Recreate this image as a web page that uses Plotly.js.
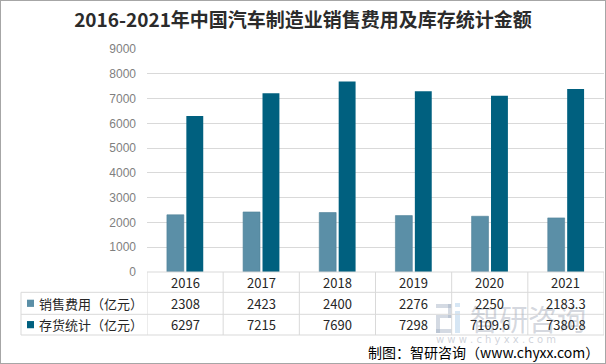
<!DOCTYPE html>
<html><head><meta charset="utf-8">
<script src="https://cdn.plot.ly/plotly-3.0.1.min.js"></script>
<style>
html,body{margin:0;padding:0;background:#fff;overflow:hidden;}
#wrap{position:relative;width:606px;height:364px;}
#chart{width:606px;height:364px;}
#border{position:absolute;left:0;top:0;width:604px;height:362px;border:1px solid #a6a6a6;pointer-events:none;}
</style></head>
<body><div id="wrap"><div id="chart"></div><div id="border"></div></div>
<script>
const years = ['2016','2017','2018','2019','2020','2021'];
const salesName = '销售费用（亿元）';
const stockName = '存货统计（亿元）';
const sales = [2308, 2423, 2400, 2276, 2250, 2183.3];
const stock = [6297, 7215, 7690, 7298, 7109.6, 7380.8];
const salesLabels = ['2308','2423','2400','2276','2250','2183.3'];
const stockLabels = ['6297','7215','7690','7298','7109.6','7380.8'];
const yTicks = [0,1000,2000,3000,4000,5000,6000,7000,8000,9000];

const cLight = '#5b8fa7';
const cDark = '#00607f';
const lineC = '#d9d9d9';
const txt = '#262626';
const cjk = '"Noto Sans CJK SC", "Noto Sans", sans-serif';

// plot-area geometry in pixels, used to place table / watermark in paper units
const PL = 147, PW = 457, PB = 272, PH = 223;
function px(x){ return (x - PL) / PW; }
function py(y){ return (PB - y) / PH; }

const rowY = [py(272), py(292.3), py(314.3), py(335)];
const leftX = px(21);

const traces = [
  {type:'bar', name:salesName, x:years, y:sales, marker:{color:cLight, line:{color:'#4f8199', width:0.6}}, hoverinfo:'x+y'},
  {type:'bar', name:stockName, x:years, y:stock, marker:{color:cDark}, hoverinfo:'x+y'}
];

const shapes = [];
// watermark logo (drawn first, under table text)
const wmA = 'rgba(160,172,192,0.45)', wmB = 'rgba(180,210,235,0.55)';
[[436,304,452,308,wmA],[448,304,452,318,wmA],[440,315,452,318,wmA],[436,315,440,333,wmA],[436,329,452,333,wmA],
 [455,311,460,333,wmB],[455,303,460,307,wmB]].forEach(function(r){
  shapes.push({type:'rect', xref:'paper', yref:'paper', x0:px(r[0]), x1:px(r[2]), y0:py(r[3]), y1:py(r[1]), fillcolor:r[4], line:{width:0}, layer:'below'});
});
// horizontal lines
shapes.push({type:'line', xref:'paper', yref:'paper', x0:0, x1:1, y0:rowY[0], y1:rowY[0], line:{color:lineC, width:1}});
for (let i=1;i<rowY.length;i++){
  shapes.push({type:'line', xref:'paper', yref:'paper', x0:leftX, x1:1, y0:rowY[i], y1:rowY[i], line:{color:lineC, width:1}});
}
// vertical lines at category boundaries
for (let i=0;i<=years.length;i++){
  shapes.push({type:'line', xref:'x', yref:'paper', x0:i-0.5, x1:i-0.5, y0:rowY[0], y1:rowY[3], line:{color:lineC, width:1}});
}
shapes.push({type:'line', xref:'paper', yref:'paper', x0:leftX, x1:leftX, y0:rowY[1], y1:rowY[3], line:{color:lineC, width:1}});
// legend keys
[[rowY[1],rowY[2],cLight],[rowY[2],rowY[3],cDark]].forEach(function(k){
  const mid=(k[0]+k[1])/2;
  shapes.push({type:'rect', xref:'paper', yref:'paper', x0:px(27), x1:px(34), y0:mid-3.6/PH, y1:mid+3.6/PH, fillcolor:k[2], line:{width:0}});
});

const ann = [];
// watermark text
ann.push({xref:'paper', yref:'paper', x:px(468), y:py(318), text:'智研咨询', showarrow:false, xanchor:'left', yanchor:'middle', font:{family:cjk, size:29, color:'rgba(160,168,182,0.45)'}});
ann.push({xref:'paper', yref:'paper', x:px(434), y:py(339), text:'w w w . c h y x x . c o m', showarrow:false, xanchor:'left', yanchor:'middle', font:{family:'"DejaVu Sans", sans-serif', size:10, color:'rgba(160,168,182,0.5)'}});
years.forEach(function(y,i){
  ann.push({xref:'x', yref:'paper', x:i, y:(rowY[0]+rowY[1])/2, text:y, showarrow:false, font:{family:cjk, size:13, color:txt}, yanchor:'middle'});
  ann.push({xref:'x', yref:'paper', x:i, y:(rowY[1]+rowY[2])/2, text:salesLabels[i], showarrow:false, font:{family:cjk, size:13, color:txt}, yanchor:'middle'});
  ann.push({xref:'x', yref:'paper', x:i, y:(rowY[2]+rowY[3])/2, text:stockLabels[i], showarrow:false, font:{family:cjk, size:13, color:txt}, yanchor:'middle'});
});
ann.push({xref:'paper', yref:'paper', x:px(37), y:(rowY[1]+rowY[2])/2, text:salesName, showarrow:false, xanchor:'left', yanchor:'middle', font:{family:cjk, size:13, color:txt}});
ann.push({xref:'paper', yref:'paper', x:px(37), y:(rowY[2]+rowY[3])/2, text:stockName, showarrow:false, xanchor:'left', yanchor:'middle', font:{family:cjk, size:13, color:txt}});
// credit
ann.push({xref:'paper', yref:'paper', x:px(601), y:py(352), text:'制图：智研咨询（www.chyxx.com）', showarrow:false, xanchor:'right', yanchor:'middle', font:{family:cjk, size:14, color:'#000'}});

const layout = {
  width:606, height:364,
  margin:{l:PL, r:606-PL-PW, t:PB-PH, b:364-PB, pad:0},
  paper_bgcolor:'#fff', plot_bgcolor:'rgba(0,0,0,0)',
  title:{text:'<b>2016-2021年中国汽车制造业销售费用及库存统计金额</b>', x:0.5, xref:'container', xanchor:'center', y:1 - 20/364, yref:'container', yanchor:'middle', font:{family:cjk, size:19, color:'#2b2b2b'}},
  showlegend:false,
  barmode:'group', bargap:0.49, bargroupgap:0.13,
  xaxis:{type:'category', showticklabels:false, showgrid:false, zeroline:false, showline:false, ticks:'', range:[-0.5,5.5], fixedrange:true},
  yaxis:{range:[0,9000], tickvals:yTicks, ticktext:yTicks.map(String), showgrid:true, gridcolor:lineC, gridwidth:1, zeroline:false, showline:false, ticks:'', tickfont:{family:'"Liberation Sans", Arial, sans-serif', size:12, color:'#7f7f7f'}, ticklabelstandoff:10, fixedrange:true},
  shapes:shapes, annotations:ann
};
Plotly.newPlot('chart', traces, layout, {displayModeBar:false, staticPlot:true});
</script></body></html>
